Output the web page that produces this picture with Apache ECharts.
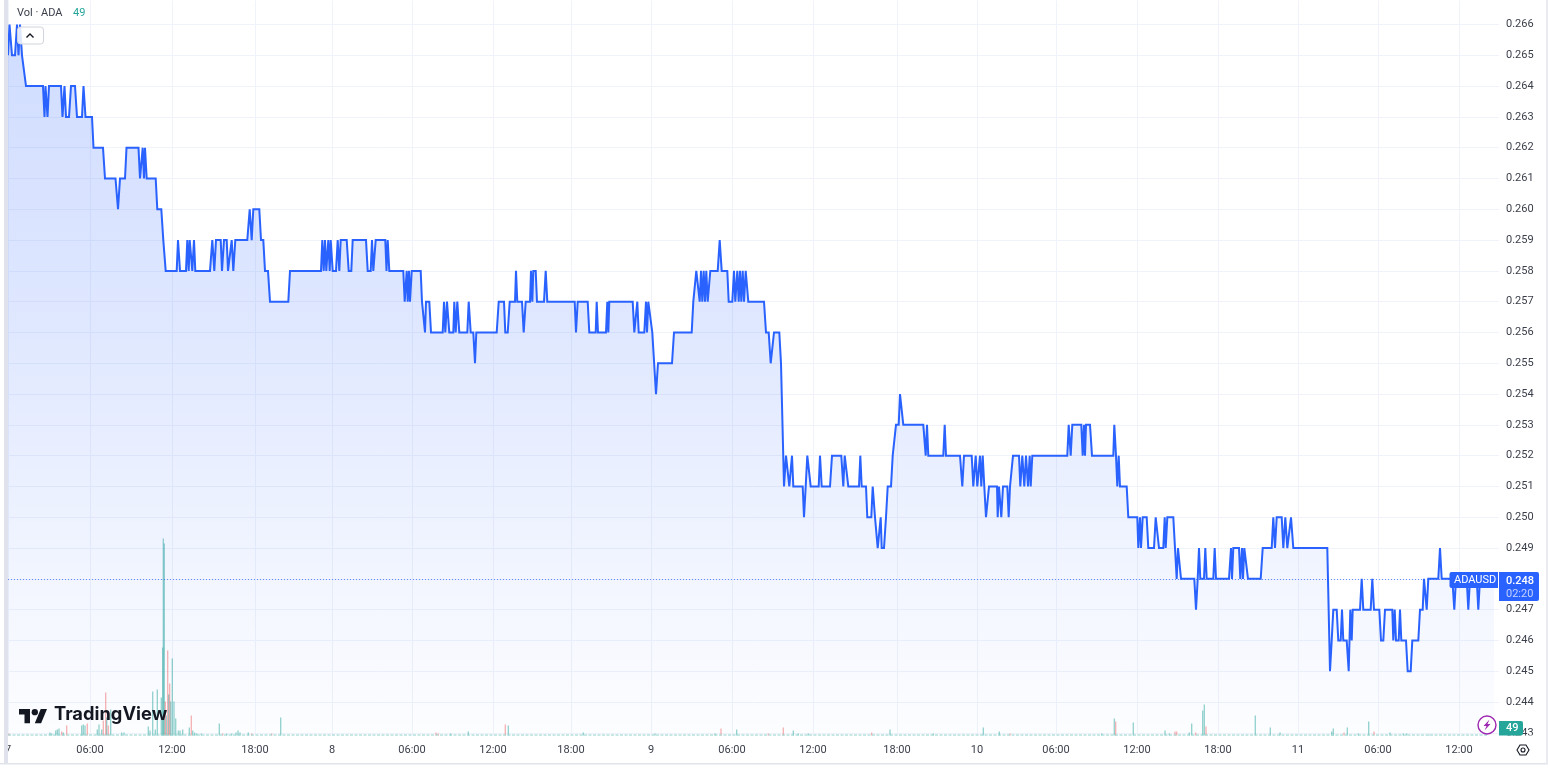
<!DOCTYPE html>
<html>
<head>
<meta charset="utf-8">
<style>html,body{margin:0;padding:0;background:#fff}#c{width:1548px;height:770px}</style>
<script src="https://cdn.jsdelivr.net/npm/echarts@6/dist/echarts.min.js"></script>
</head>
<body>
<div id="c"></div>
<script>
// x unit: bar position along the time scale; each pair is [bar, price]
const priceDay7 = [[0,.265],[1.5,.266],[4,.265],[7,.265],[9,.266],[10.5,.265],[12,.266],[14,.265],[16,.265],[18,.264],
[35,.264],[36.5,.263],[37.5,.264],[39.5,.263],[41,.264],[53,.264],[54.5,.263],[56.5,.264],[58,.263],[61,.263],[63,.264],[67,.264],[69,.263],[74,.263],[75.5,.264],[77.5,.263],[84,.263],[85.5,.262],[95,.262],[97,.261],[107.5,.261],[110,.26],[112,.261],[117,.261],[118.5,.262],[130.5,.262],[132,.261],[134.7,.262],[136,.261],[137,.262],[138.7,.261],[147.7,.261],[149.3,.26],[153.3,.26],[155.3,.259],[157.7,.258],
[168.7,.258],[170,.259],[172,.258],[178,.258],[179.3,.259],[180.7,.258],[181.7,.259],[182.7,.259],[184.3,.258],[186,.259],[187.3,.258],[202,.258],[204.3,.259],[206.3,.258],[208,.259],[212.7,.259],[214,.258],[216,.259],[218.7,.259],[220,.258],[222,.258],[223.7,.259],[225.3,.258],[227.3,.259],[239.3,.259],[241.7,.26],[243.7,.259],[245.3,.26],[251.3,.26],[253,.259],[255.3,.259],[257,.258],[260,.258],[262,.257],[264,.257],[280.3,.257],[282,.258],[313,.258],[314.3,.259],[315.7,.258],[317,.259],[318.3,.258],[320.3,.259],[321.7,.258],[322.7,.259],[324.7,.258]];
const priceDay8 = [[328,.258],[329.7,.259],[331.3,.258],[332.7,.259],[338.7,.259],[340.7,.258],[343.3,.258],[344.7,.259],[358,.259],[359.7,.258],[362.7,.258],[364,.259],[365.3,.258],[367.7,.259],[377.3,.259],[378.5,.258],[379.7,.259],[381.3,.258],[395.3,.258],
[396.7,.257],[398.7,.258],[399.7,.257],[401,.258],[402,.257],[403.7,.258],[412.7,.258],[414,.257],[416,.257],[417,.256],[418,.257],[421.3,.257],[423,.256],[434.7,.256],[436,.257],[437.3,.256],[439,.257],[441.3,.256],[445.3,.256],[446.3,.257],[447.7,.256],[449.3,.257],[451.3,.256],[459.3,.256],[460.7,.257],[462.7,.256],[465.3,.256],[467,.255],[468.3,.256],[488.7,.256],[490.7,.257],[496,.257],[497.3,.256],[499.7,.256],[501.7,.257],[507,.257],[508,.258],[509.3,.257],[514,.257],[515.7,.256],[517.7,.257],[522,.257],[523,.258],[524.3,.257],[525.3,.258],[527.7,.258],[529,.257],[536,.257],[537.7,.258],[539.3,.257],[566.7,.257],[568,.256],[569.7,.257],[579.7,.257],[581.3,.256],[587.7,.256],[588.7,.257],[590,.256],[598,.256],[599.3,.257],[600.3,.256],[601.3,.257],[624.7,.257],[626.3,.256],[628,.256],[629.3,.257],[630.7,.256],[636.3,.256],[638,.257],[639,.256],[640.3,.257],[642,.257]];
const priceDay9 = [[644.3,.256],[646,.256],[648,.254],[650,.255],[664,.255],[666,.256],[683.7,.256],[685.3,.257],[687,.257],[688.3,.258],[690,.258],[691.7,.257],[693,.258],[694.3,.257],[695.7,.258],[697,.257],[698.3,.258],[699.7,.257],[702.3,.258],[709.7,.258],[711.7,.259],[713.7,.258],[719.3,.258],[720.7,.257],[724.3,.257],[726,.258],[727.3,.257],[729.3,.258],[730.7,.257],[732,.258],[733.3,.257],[734.7,.258],[736,.257],[737.7,.258],[738.7,.258],[740.3,.257],[756,.257],[758,.256],[760.7,.256],[762.7,.255],[764,.255],[766,.256],[771.3,.256],[773,.255],[774,.255],[776,.251],
[778,.252],[780,.252],[781.3,.251],[784,.252],[785.3,.251],[794.7,.251],[796,.25],[797.7,.251],[799.3,.252],[801,.252],[802.7,.251],[810.7,.251],[812,.252],[813.7,.251],[822,.251],[824,.252],[833.3,.252],[835.3,.251],[836.7,.252],[838.3,.252],[840.3,.251],[851,.251],[852.3,.252],[853.7,.251],[858,.251],[859.3,.25],[863.3,.25],[864.7,.251],[867,.25],[868.3,.25],[869.7,.249],[871.3,.249],[872.7,.25],[873.7,.249],[876,.249],[878,.25],[879.7,.251],[883,.251],[884.7,.252],[886,.252],[888,.253],[890.7,.253],[892,.254],[893.7,.254],[895.3,.253],[915.3,.253],[917.7,.252],[919,.253],[920.3,.252],[935.3,.252],[936.7,.253],[938,.252],[952,.252],[954.3,.251],[956,.252],[963.7,.252],[965.3,.251],[967.7,.252]];
const priceDay10 = [[969.3,.251],[971,.251],[972,.252],[973.3,.251],[974.7,.252],[976.3,.251],[978,.25],[979,.25],[981,.251],[989,.251],[989.7,.25],[991,.251],[993,.251],[993.3,.25],[995,.251],[999.3,.251],[1000.7,.25],[1002,.251],[1003.3,.251],[1005,.252],[1011,.252],[1012.3,.251],[1014.3,.252],[1016.3,.251],[1018,.252],[1020,.251],[1021.7,.252],[1022.7,.251],[1024.3,.252],[1059.3,.252],[1060.7,.253],[1062.7,.252],[1064.3,.253],[1073.3,.253],[1074.7,.252],[1076,.253],[1077,.252],[1078,.253],[1082,.253],[1084,.252],[1105.3,.252],[1106.3,.253],[1108,.252],[1109.3,.251],[1110.7,.252],[1112,.251],[1118.7,.251],[1120.3,.25],[1129.3,.25],[1130.3,.249],[1132,.25],[1133,.249],[1134.7,.25],[1138.7,.25],[1140.3,.249],[1146,.249],[1147.7,.25],[1149.3,.25],[1151,.249],[1155.3,.249],[1156.7,.25],[1157.7,.249],[1159.3,.25],[1165.3,.25],[1168.7,.248],[1170,.249],[1171.5,.249],[1173,.248],[1186.3,.248],[1188,.247],[1189.7,.248],[1191,.249],[1192.3,.248],[1196,.248],[1197.3,.249],[1198.7,.248],[1205.3,.248],[1206.7,.249],[1208,.248],[1221,.248],[1223,.249],[1224,.248],[1225.3,.249],[1231,.249],[1232.3,.248],[1234,.249],[1235,.248],[1236.3,.249],[1238,.249],[1240,.248],[1252.7,.248],[1254.7,.249],[1263.7,.249],[1265.3,.25],[1267,.249],[1268.7,.25],[1273.7,.25],[1275.3,.249],[1277.3,.25],[1279.3,.249],[1281,.249],[1283,.25],[1285.3,.249]];
const priceDay11 = [[1319.3,.249],[1322,.245],[1323.7,.246],[1325.3,.247],[1328.7,.247],[1330.3,.246],[1332.7,.246],[1334,.247],[1335.3,.246],[1338.7,.246],[1340.7,.245],[1342.3,.247],[1343.7,.246],[1344.7,.247],[1352,.247],[1353.7,.248],[1355.3,.247],[1362.7,.247],[1364.3,.248],[1366,.247],[1371.3,.247],[1373,.246],[1375.3,.246],[1377,.247],[1384.3,.247],[1385.3,.246],[1386.7,.247],[1388,.246],[1390.7,.246],[1392,.247],[1393.3,.246],[1398,.246],[1399.7,.245],[1402.7,.245],[1404.3,.246],[1410.3,.246],[1412,.247],[1414.7,.247],[1416,.248],[1417.3,.248],[1418.7,.247],[1420.3,.248],[1430.3,.248],[1432,.249],[1433.7,.248],[1444.3,.248],[1446.3,.247],[1448,.248],[1458.7,.248],[1460.3,.247],[1462,.248],[1468.7,.248],[1470.3,.247],[1472,.248],[1479,.248]];

const volumeUp = [[42,3],[43.7,2],[47.7,5],[49.3,6],[51,7],[55.3,3],[73.7,10],[75.3,11],[77,10],[89.3,6],[91,11],[93.7,6],[98.7,18],[102.7,26],[113.7,3],[116,3],[140.3,9],[142,5],[144.7,44],[147.3,6],[149.3,46],[153.3,38],[154.7,88],[155.3,197],[156.3,192],[158.3,20],[160.7,41],[162.7,34],[164.3,77],[166,34],[167.7,17],[170.3,5],[172,5],[174.7,6],[181.3,8],[184.7,5],[186.7,3],[188.7,2],[193.3,2],[211.3,12],[218.7,2],[223.7,2],[228,3],[230,5],[232,3],[240.3,3],[272.7,18],
[442.7,2],[460.3,4],[500.3,10],[575.3,3],[647,2],[707,2],[728.7,6],[785.3,5],[790.3,2],
[800.3,2],[882,6],[925.3,2],[975.3,8],[991.3,4],[1093.7,2],[1106.3,17],[1125.3,13],[1157,5],[1161.3,2],[1181.3,3],[1183.7,12],
[1194.7,25],[1196.3,31],[1247.3,20],[1262.3,8],[1272,3],[1323.7,4],[1325.3,7],[1339.3,8],[1350.3,2],[1360.7,14],[1382,3],[1395.3,2],[1398.7,2],[1421,1]];
const volumeDown = [[1,2],[53.7,4],[58.7,10],[79.3,12],[95.3,15],[97.7,43],[100.3,10],[157.3,34],[159.7,85],[161.7,52],[183.3,20],[214.7,2],[243.7,2],[263.7,2],
[428,3],[430.3,2],[497.3,11],[713,7],[760.3,2],[775.3,8],
[863.7,3],[1002,2],[1107.7,14],[1167,4],[1168.7,4],[1187.7,3],[1198,9],[1336,3],[1366,4]];

const timeTickBars = [0,82,164,247,324,404,485,563,643,724,805,889,969,1048,1129,1210,1290,1370,1451];
const timeTickLabels = ['7','06:00','12:00','18:00','8','06:00','12:00','18:00','9','06:00','12:00','18:00','10','06:00','12:00','18:00','11','06:00','12:00'];
const priceTicks = [.243,.244,.245,.246,.247,.248,.249,.25,.251,.252,.253,.254,.255,.256,.257,.258,.259,.26,.261,.262,.263,.264,.265,.266];
const lastPrice = 0.248;
const lastBar = 1479;
const lastVolume = '49';

const priceLine = [].concat(priceDay7, priceDay8, priceDay9, priceDay10, priceDay11, [[lastBar + 7, lastPrice]]);
const FONT = 'Roboto, "Noto Sans", sans-serif';
const grey = '#f0f3fa';
const TEXT = '#3a3e4a';

const chart = echarts.init(document.getElementById('c'), null, {renderer: 'canvas', width: 1548, height: 770});
chart.setOption({
  animation: false,
  backgroundColor: '#ffffff',
  grid: [
    {left: 8, width: 1491, top: 0.5, height: 735},
    {left: 8, width: 1491, top: 535.5, height: 200}
  ],
  xAxis: [
    {type: 'value', gridIndex: 0, min: 0, max: 1491,
      axisLine: {show: false},
      axisTick: {show: false, customValues: timeTickBars},
      splitLine: {show: true, lineStyle: {color: grey, width: 1}},
      axisLabel: {customValues: timeTickBars, margin: 9, color: TEXT, fontSize: 11, fontFamily: FONT,
        showMinLabel: true, showMaxLabel: true, hideOverlap: false,
        formatter: v => timeTickLabels[timeTickBars.indexOf(v)] || ''}},
    {type: 'value', gridIndex: 1, min: 0, max: 1491,
      axisLine: {show: false},
      axisTick: {show: false}, splitLine: {show: false}, axisLabel: {show: false}}
  ],
  yAxis: [
    {type: 'value', gridIndex: 0, position: 'right', min: 0.242914, max: 0.266779,
      axisLine: {show: false},
      axisTick: {show: false, customValues: priceTicks},
      splitLine: {show: true, lineStyle: {color: grey, width: 1}},
      axisLabel: {customValues: priceTicks, margin: 7, color: TEXT, fontSize: 11, fontFamily: FONT,
        verticalAlign: 'middle', padding: [3, 0, 0, 0],
        showMinLabel: true, showMaxLabel: true, hideOverlap: false,
        formatter: v => v.toFixed(3)}},
    {type: 'value', gridIndex: 1, position: 'right', min: 0, max: 200, show: false}
  ],
  series: [
    {type: 'line', name: 'ADAUSD', xAxisIndex: 0, yAxisIndex: 0, data: priceLine, showSymbol: false, symbol: 'none',
      silent: true, clip: false, z: 3,
      lineStyle: {color: '#2962ff', width: 2, join: 'miter', miterLimit: 2},
      areaStyle: {origin: 'start', opacity: 1, color: {type: 'linear', x: 0, y: 0, x2: 0, y2: 1,
        colorStops: [{offset: 0, color: 'rgba(41,98,255,0.22)'}, {offset: .42, color: 'rgba(41,98,255,0.15)'}, {offset: .8, color: 'rgba(41,98,255,0.055)'}, {offset: 1, color: 'rgba(41,98,255,0.01)'}]}},
      markLine: {silent: true, symbol: 'none', precision: 3, label: {show: false}, animation: false,
        lineStyle: {color: '#2962ff', type: [1, 2], width: 1, opacity: .7},
        data: [{yAxis: lastPrice}]}},
    {type: 'bar', name: 'Vol up', xAxisIndex: 1, yAxisIndex: 1, data: volumeUp, barWidth: 1.3, barGap: '-100%', silent: true, z: 2,
      itemStyle: {color: 'rgba(38,166,154,0.5)'}},
    {type: 'bar', name: 'Vol down', xAxisIndex: 1, yAxisIndex: 1, data: volumeDown, barWidth: 1.3, barGap: '-100%', silent: true, z: 2,
      itemStyle: {color: 'rgba(239,83,80,0.45)'}}
  ],
  graphic: [
    // frame
    {type: 'rect', z: 50, shape: {x: 4, y: 0, width: 4, height: 764}, style: {fill: '#e0e3eb'}},
    {type: 'rect', z: 49, shape: {x: 0, y: 736, width: 4, height: 28}, style: {fill: '#fff'}},
    {type: 'rect', z: 50, shape: {x: 0, y: 763, width: 1548, height: 1.5}, style: {fill: '#e0e3eb'}},
    {type: 'rect', z: 50, shape: {x: 1546, y: 0, width: 2, height: 764}, style: {fill: '#e9ebf1'}},
    // baseline of small volume bars
    {type: 'line', z: 10, shape: {x1: 8, y1: 735, x2: 1487, y2: 735}, style: {stroke: '#8fd3cc', lineWidth: 1, lineDash: [3, 1.5]}},
    // legend
    {type: 'text', z: 60, style: {x: 17, y: 8, text: 'Vol · ADA', fill: '#3a3e4a', font: '11px ' + FONT}},
    {type: 'text', z: 60, style: {x: 73, y: 8, text: lastVolume, fill: '#26a69a', font: '11px ' + FONT}},
    {type: 'rect', z: 60, shape: {x: 17.5, y: 27, width: 26, height: 17, r: 3}, style: {fill: 'rgba(255,255,255,.85)', stroke: '#d1d4dc', lineWidth: 1}},
    {type: 'polyline', z: 61, shape: {points: [[26.5, 37.5], [30, 34], [33.5, 37.5]]}, style: {stroke: '#131722', lineWidth: 1.4, fill: 'none'}},
    // watermark
    {type: 'polygon', z: 60, shape: {points: [[19, 709], [30, 709], [30, 723.2], [24.5, 723.2], [24.5, 714.5], [19, 714.5]]}, style: {fill: '#131722'}},
    {type: 'polygon', z: 60, shape: {points: [[34.8, 723.2], [40.7, 709], [47, 709], [41.1, 723.2]]}, style: {fill: '#131722'}},
    {type: 'circle', z: 60, shape: {cx: 34.8, cy: 712.2, r: 3.16}, style: {fill: '#131722'}},
    {type: 'text', z: 60, style: {x: 54, y: 706, text: 'TradingView', fill: '#131722', font: '700 18.3px Inter, ' + FONT}},
    // price tags
    {type: 'rect', z: 60, shape: {x: 1449.5, y: 572, width: 48.5, height: 16, r: [2, 0, 0, 2]}, style: {fill: '#2962ff'}},
    {type: 'text', z: 61, style: {x: 1454, y: 574.5, text: 'ADAUSD', fill: '#fff', font: '11px ' + FONT}},
    {type: 'rect', z: 60, shape: {x: 1499, y: 572, width: 40, height: 29, r: [0, 2, 2, 0]}, style: {fill: '#2962ff'}},
    {type: 'text', z: 61, style: {x: 1506, y: 575.5, text: '0.248', fill: '#fff', font: '500 11px ' + FONT}},
    {type: 'text', z: 61, style: {x: 1506, y: 588.5, text: '02:20', fill: '#c3d2ff', font: '11px ' + FONT}},
    // volume tag
    {type: 'rect', z: 60, shape: {x: 1499, y: 735.5, width: 47, height: 6}, style: {fill: '#fff'}},
    {type: 'rect', z: 61, shape: {x: 1499, y: 721, width: 24, height: 14.5, r: [0, 2, 2, 0]}, style: {fill: '#26a69a'}},
    {type: 'text', z: 62, style: {x: 1506, y: 722.5, text: lastVolume, fill: '#fff', font: '500 11px ' + FONT}},
    // lightning badge
    {type: 'circle', z: 60, shape: {cx: 1487, cy: 725, r: 9}, style: {fill: '#fff', stroke: '#9c27b0', lineWidth: 1.4}},
    {type: 'polygon', z: 61, shape: {points: [[1489.5, 719.5], [1483.5, 726], [1486.5, 726], [1484.5, 730.5], [1490.5, 724], [1487.5, 724]]}, style: {fill: '#9c27b0'}},
    // settings
    {type: 'polygon', z: 60, shape: {points: [[1517, 750], [1520, 745], [1526, 745], [1529, 750], [1526, 755], [1520, 755]]}, style: {fill: '#fff', stroke: '#131722', lineWidth: 1.1}},
    {type: 'circle', z: 61, shape: {cx: 1523, cy: 750, r: 2}, style: {fill: '#fff', stroke: '#131722', lineWidth: 1.1}}
  ]
});
</script>
</body>
</html>
